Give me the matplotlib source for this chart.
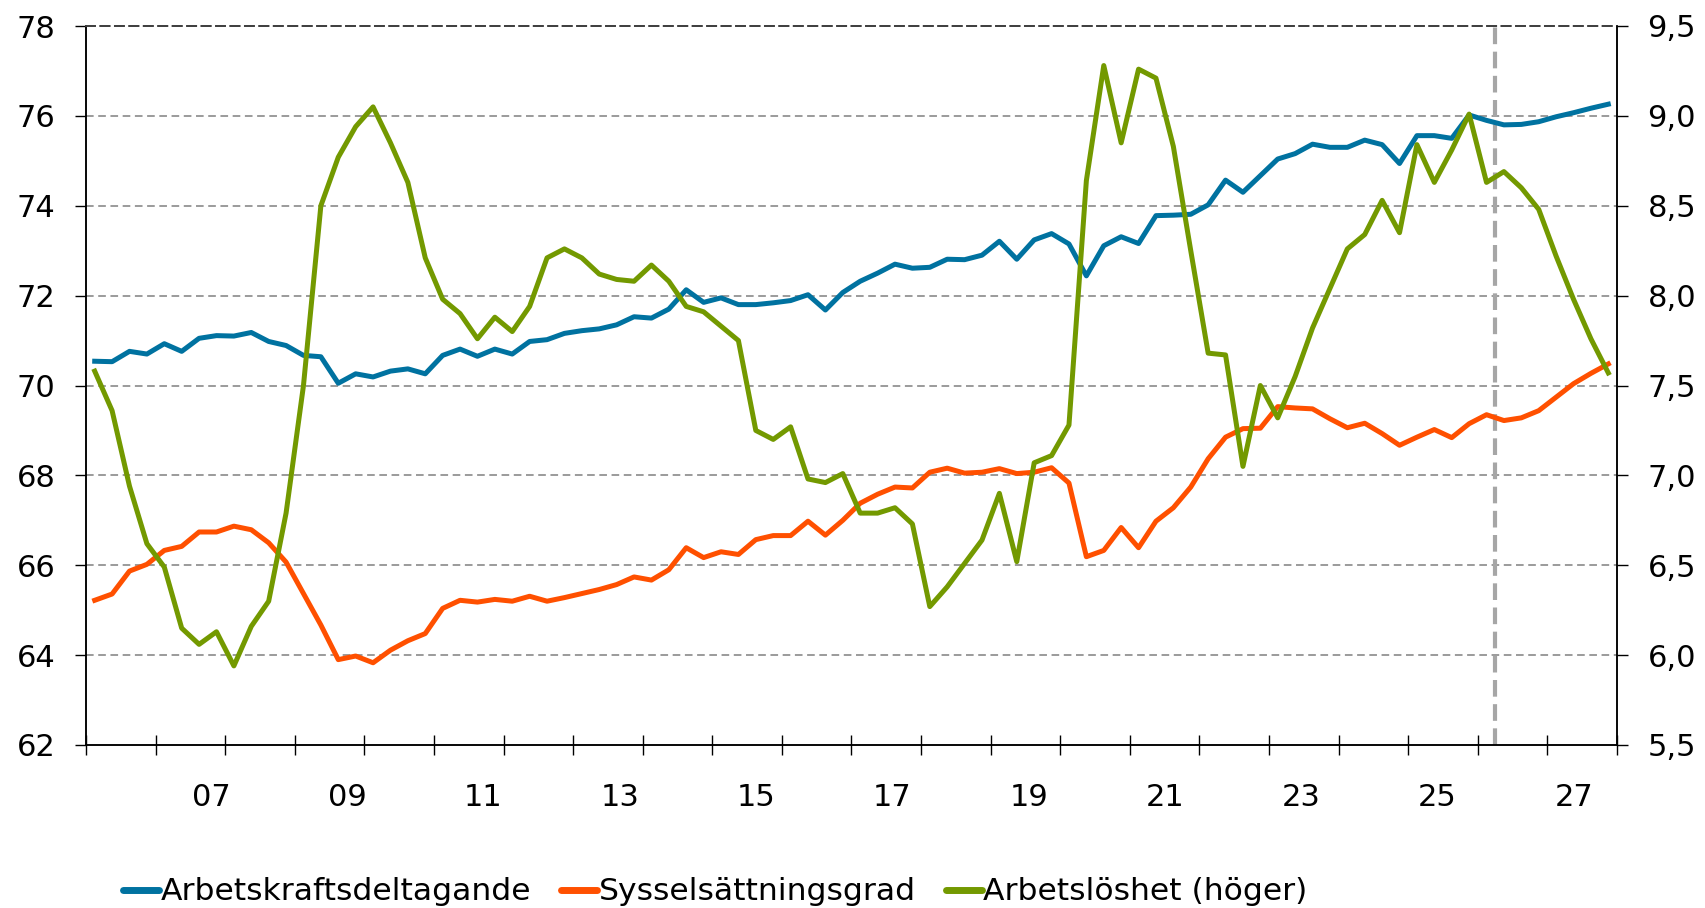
import numpy as np
import matplotlib
matplotlib.use("Agg")
import matplotlib.pyplot as plt
from matplotlib.ticker import FuncFormatter

# Quarterly series, 88 quarters
arbetskraft = [70.54, 70.53, 70.76, 70.70, 70.93, 70.76, 71.05, 71.11, 71.10, 71.18,
               70.98, 70.89, 70.67, 70.64, 70.05, 70.26, 70.19, 70.32, 70.37, 70.26,
               70.67, 70.81, 70.65, 70.81, 70.70, 70.98, 71.02, 71.16, 71.22, 71.26,
               71.35, 71.53, 71.50, 71.70, 72.13, 71.85, 71.95, 71.80, 71.80, 71.84,
               71.89, 72.02, 71.68, 72.07, 72.32, 72.50, 72.70, 72.61, 72.63, 72.81,
               72.80, 72.90, 73.21, 72.81, 73.24, 73.38, 73.15, 72.44, 73.11, 73.31,
               73.16, 73.78, 73.79, 73.81, 74.02, 74.57, 74.30, 74.67, 75.04, 75.16,
               75.37, 75.30, 75.30, 75.46, 75.36, 74.94, 75.56, 75.56, 75.50, 76.02,
               75.90, 75.80, 75.81, 75.87, 75.98, 76.07, 76.17, 76.26]

sysselsattning = [65.22, 65.36, 65.87, 66.02, 66.33, 66.42, 66.74, 66.74, 66.87, 66.79,
                  66.50, 66.07, 65.37, 64.67, 63.90, 63.98, 63.83, 64.11, 64.32, 64.48,
                  65.04, 65.22, 65.18, 65.24, 65.20, 65.31, 65.20, 65.28, 65.37, 65.46,
                  65.57, 65.74, 65.67, 65.90, 66.39, 66.17, 66.30, 66.24, 66.57, 66.66,
                  66.66, 66.98, 66.67, 67.00, 67.38, 67.58, 67.74, 67.72, 68.07, 68.16,
                  68.05, 68.07, 68.15, 68.04, 68.07, 68.17, 67.83, 66.19, 66.33, 66.84,
                  66.39, 66.98, 67.28, 67.74, 68.37, 68.85, 69.04, 69.05, 69.53, 69.50,
                  69.48, 69.26, 69.06, 69.16, 68.93, 68.67, 68.85, 69.02, 68.84, 69.15,
                  69.35, 69.22, 69.28, 69.44, 69.74, 70.04, 70.27, 70.48]

arbetsloshet = [7.58, 7.36, 6.94, 6.62, 6.49, 6.15, 6.06, 6.13, 5.94, 6.16,
                6.30, 6.79, 7.50, 8.50, 8.77, 8.94, 9.05, 8.85, 8.63, 8.21,
                7.98, 7.90, 7.76, 7.88, 7.80, 7.94, 8.21, 8.26, 8.21, 8.12,
                8.09, 8.08, 8.17, 8.08, 7.94, 7.91, 7.83, 7.75, 7.25, 7.20,
                7.27, 6.98, 6.96, 7.01, 6.79, 6.79, 6.82, 6.73, 6.27, 6.38,
                6.51, 6.64, 6.90, 6.52, 7.07, 7.11, 7.28, 8.64, 9.28, 8.85,
                9.26, 9.21, 8.83, 8.25, 7.68, 7.67, 7.05, 7.50, 7.32, 7.55,
                7.82, 8.04, 8.26, 8.34, 8.53, 8.35, 8.84, 8.63, 8.81, 9.01,
                8.63, 8.69, 8.60, 8.48, 8.22, 7.98, 7.76, 7.57]

year_labels = ["07", "09", "11", "13", "15", "17", "19", "21", "23", "25", "27"]
prognos_start = 81  # first forecast quarter

blue = "#0072A0"
orange = "#FF5000"
green = "#739900"

plt.rcParams["font.family"] = ["DejaVu Sans"]
fs = 22

x = np.arange(len(arbetskraft))

fig = plt.figure(figsize=(17.06, 9.08), dpi=100)
ax = fig.add_axes([86 / 1706, 163 / 908, 1531 / 1706, 719 / 908])
ax2 = ax.twinx()

# grid
ax.set_ylim(62, 78)
ax.set_yticks(np.arange(62, 79, 2))
for v in np.arange(64, 77, 2):
    ax.axhline(v, color="#808080", lw=1.1, ls=(0, (5, 3)), zorder=1)
ax.axvline(prognos_start - 0.5, color="#A6A6A6", lw=3, ls=(0, (4, 1.8)), zorder=1)

l1, = ax.plot(x, arbetskraft, color=blue, lw=3.6, zorder=3, solid_joinstyle="round")
l2, = ax.plot(x, sysselsattning, color=orange, lw=3.6, zorder=3, solid_joinstyle="round")
l3, = ax2.plot(x, arbetsloshet, color=green, lw=3.6, zorder=3, solid_joinstyle="round")

ax.set_xlim(-0.5, len(x) - 0.5)
ax2.set_ylim(5.5, 9.5)
ax2.set_yticks(np.arange(5.5, 9.51, 0.5))
ax2.yaxis.set_major_formatter(FuncFormatter(lambda v, p: f"{v:.1f}".replace(".", ",")))

# x axis: ticks every year, labels every other year
ax.set_xticks(np.arange(-0.5, len(x), 4))
ax.set_xticklabels([])
ax.set_xticks(np.linspace(6.68, 85.02, len(year_labels)), minor=True)
ax.set_xticklabels(year_labels, minor=True)
ax.tick_params(axis="x", which="major", direction="inout", length=15, width=1.0)
ax.tick_params(axis="x", which="minor", length=0, pad=27, labelsize=fs)
ax.tick_params(axis="y", direction="out", length=8, width=1.0, pad=14, labelsize=fs)
ax2.tick_params(axis="y", direction="out", length=8, width=1.0, pad=14, labelsize=fs)

for a in (ax, ax2):
    for s in ("left", "right", "bottom"):
        a.spines[s].set_linewidth(1.1)
    a.spines["top"].set_linestyle((0, (5, 3)))
    a.spines["top"].set_color("#404040")
    a.spines["top"].set_linewidth(1.3)

leg = fig.legend([l1, l2, l3],
                 ["Arbetskraftsdeltagande", "Sysselsättningsgrad", "Arbetslöshet (höger)"],
                 loc="center left", bbox_to_anchor=(123 / 1706, 16 / 908), ncol=3,
                 frameon=False, fontsize=22.6, handlelength=1.15, handletextpad=0.05,
                 columnspacing=0.95, borderpad=0, borderaxespad=0)
for h in leg.legend_handles:
    h.set_linewidth(5)
    h.set_solid_capstyle("round")

fig.savefig("out.png", dpi=100)
